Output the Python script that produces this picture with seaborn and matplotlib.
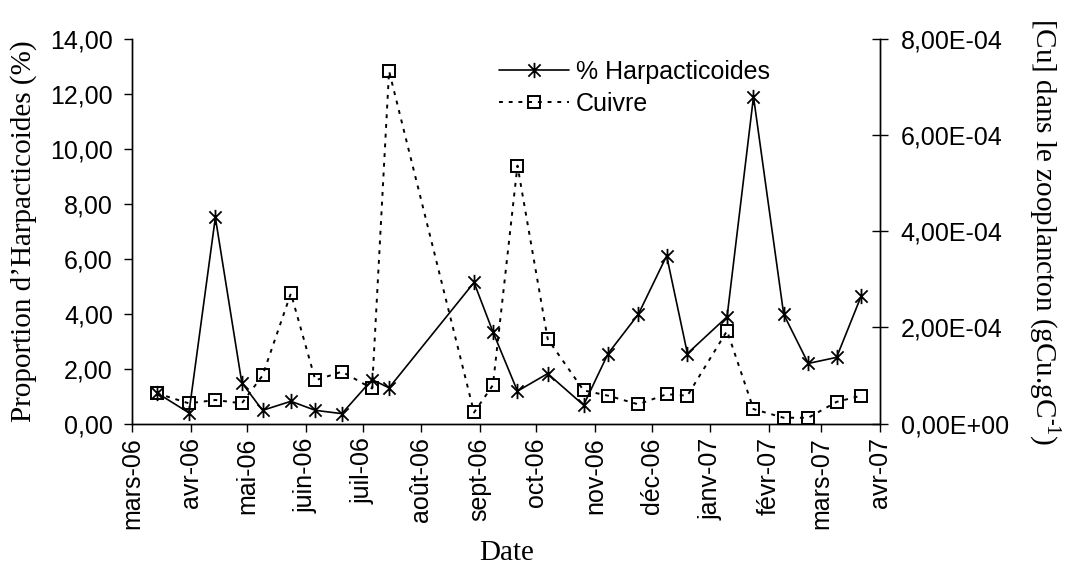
import matplotlib
matplotlib.use("Agg")
import matplotlib.pyplot as plt
from matplotlib.path import Path
from matplotlib.ticker import FuncFormatter, MultipleLocator
import numpy as np
import pandas as pd
import seaborn as sns

# sampling dates
dates = ["2006-03-14", "2006-03-31", "2006-04-14", "2006-04-28", "2006-05-09",
         "2006-05-24", "2006-06-06", "2006-06-20", "2006-07-06", "2006-07-15",
         "2006-08-29", "2006-09-08", "2006-09-21", "2006-10-07", "2006-10-26",
         "2006-11-08", "2006-11-24", "2006-12-09", "2006-12-20", "2007-01-10",
         "2007-01-24", "2007-02-09", "2007-02-22", "2007-03-09", "2007-03-22"]

harpacticoides = [1.12, 0.39, 7.51, 1.49, 0.48, 0.81, 0.48, 0.36, 1.60, 1.30,
                  5.14, 3.34, 1.18, 1.82, 0.67, 2.55, 3.98, 6.11, 2.55, 3.89,
                  11.91, 3.98, 2.19, 2.41, 4.64]

cuivre = [6.3e-5, 4.2e-5, 4.9e-5, 4.2e-5, 1.0e-4, 2.71e-4, 9.0e-5, 1.08e-4,
          7.3e-5, 7.34e-4, 2.3e-5, 8.0e-5, 5.37e-4, 1.76e-4, 6.9e-5, 5.8e-5,
          4.0e-5, 6.1e-5, 5.8e-5, 1.93e-4, 3.0e-5, 1.2e-5, 1.2e-5, 4.5e-5, 5.8e-5]

month_labels = ["mars-06", "avr-06", "mai-06", "juin-06", "juil-06", "août-06",
                "sept-06", "oct-06", "nov-06", "déc-06", "janv-07", "févr-07",
                "mars-07", "avr-07"]

df = pd.DataFrame({
    "date": pd.to_datetime(dates),
    "harpacticoides": harpacticoides,
    "cuivre": cuivre,
})

sns.set_style("ticks")
SANS = ["Liberation Sans", "DejaVu Sans"]
SERIF = ["Liberation Serif", "DejaVu Serif"]
plt.rcParams.update({
    "font.family":      SANS,
    "text.color":       "black",
    "axes.labelcolor":  "black",
    "xtick.color":      "black",
    "ytick.color":      "black",
    "mathtext.fontset": "custom",
    "mathtext.rm":      "Liberation Serif",
})

# Excel-style asterisk: an X with a vertical bar
asterisk = Path([(-1, -1), (1, 1), (-1, 1), (1, -1), (0, -1.25), (0, 1.25)],
                [Path.MOVETO, Path.LINETO, Path.MOVETO, Path.LINETO,
                 Path.MOVETO, Path.LINETO])

fig = plt.figure(figsize=(10.65, 5.65), dpi=100)
ax = fig.add_axes([0.1242, 0.2504, 0.7021, 0.6800])
ax2 = ax.twinx()

sns.lineplot(data=df, x="date", y="harpacticoides", ax=ax, color="black",
             lw=1.2, marker=asterisk, markersize=11, markeredgewidth=1.3,
             markeredgecolor="black", label="% Harpacticoides", legend=False)
sns.lineplot(data=df, x="date", y="cuivre", ax=ax2, color="black",
             lw=1.4, linestyle=(0, (2, 3)), marker="s", markersize=8,
             markerfacecolor="none", markeredgecolor="black",
             markeredgewidth=1.4, label="Cuivre", legend=False)

month_ticks = pd.date_range("2006-03-01", "2007-04-01", freq="MS")
ax.set_xlim(month_ticks[0], month_ticks[-1])
ax.set_xticks(month_ticks)
ax.set_xticklabels(month_labels, rotation=90, fontsize=18)

ax.set_ylim(0, 14)
ax.yaxis.set_major_locator(MultipleLocator(2))
ax.yaxis.set_major_formatter(FuncFormatter(lambda v, p: f"{v:.2f}".replace(".", ",")))
ax2.set_ylim(0, 8e-4)
ax2.yaxis.set_major_locator(MultipleLocator(2e-4))
ax2.yaxis.set_major_formatter(FuncFormatter(lambda v, p: f"{v:.2E}".replace(".", ",")))

ax.tick_params(axis="y", labelsize=18, length=6, width=1, pad=8, direction="out")
ax.tick_params(axis="x", length=6, width=1, pad=4, direction="out")
ax2.tick_params(axis="y", labelsize=18, length=12, width=1, pad=9, direction="inout")

for a in (ax, ax2):
    a.spines["top"].set_visible(False)
    for s in a.spines.values():
        s.set_linewidth(1)
        s.set_color("black")

ax.set_xlabel("Date", family=SERIF, fontsize=21, labelpad=8)
ax.set_ylabel("Proportion d\u2019Harpacticoides (%)", family=SERIF, fontsize=21)
ax.yaxis.set_label_coords(-0.146, 0.5)
ax2.set_ylabel("[Cu] dans le zooplancton (gCu.gC$^{\\text{-1}}$)", family=SERIF,
               fontsize=21, rotation=270)
ax2.yaxis.set_label_coords(1.221, 0.5)
ax2.yaxis.label.set_va("center")
ax.yaxis.label.set_va("center")

h1, l1 = ax.get_legend_handles_labels()
h2, l2 = ax2.get_legend_handles_labels()
ax.legend(h1 + h2, l1 + l2, loc="upper left", bbox_to_anchor=(0.47, 0.985),
          frameon=False, fontsize=18, handlelength=2.8, labelspacing=0.3,
          handletextpad=0.3, borderaxespad=0.2)
ax.set_zorder(ax2.get_zorder() + 1)
ax.patch.set_visible(False)

fig.savefig("out.png", dpi=100)
plt.close(fig)
